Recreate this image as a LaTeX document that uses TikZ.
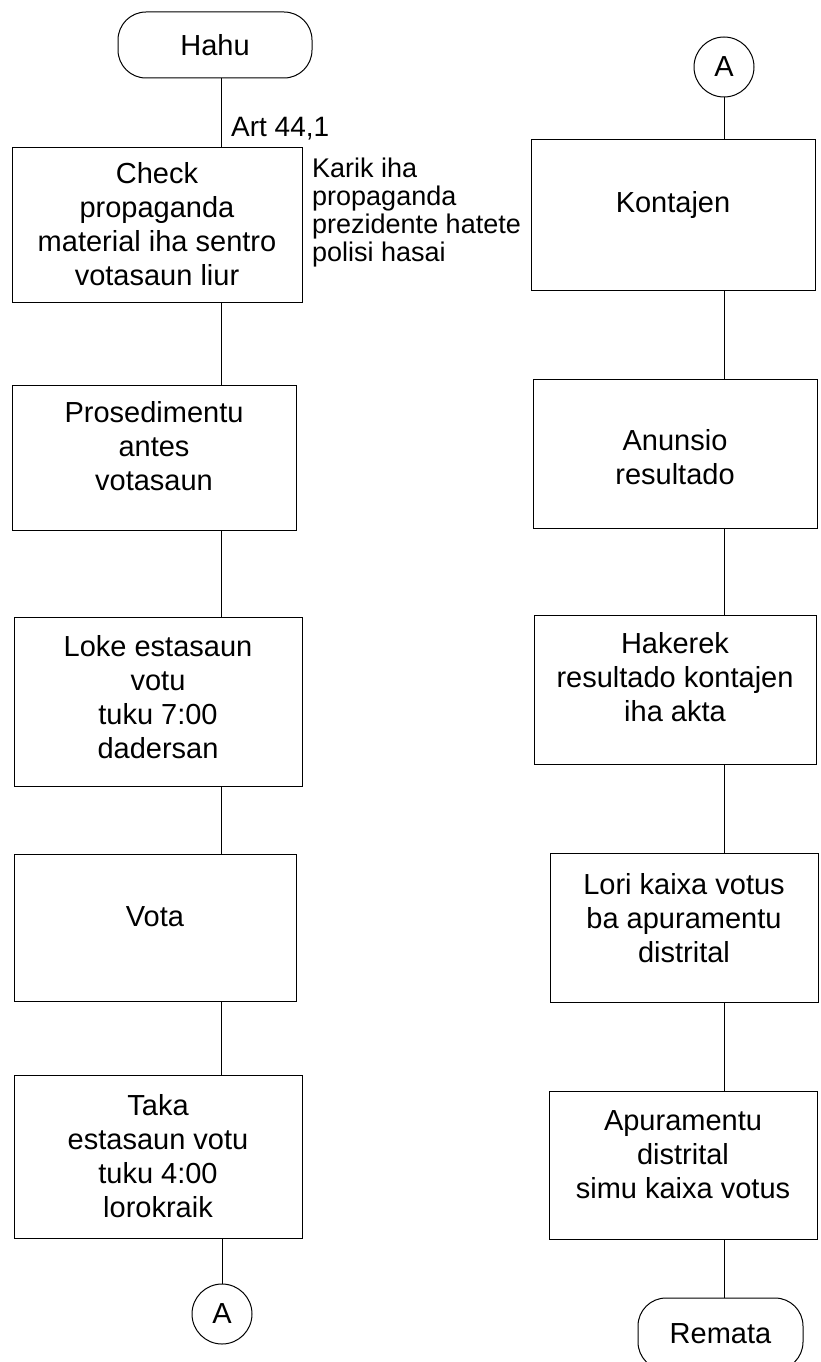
\documentclass[tikz,border=0pt]{standalone}
\usepackage{fontspec}
\setmainfont{Liberation Sans}
\begin{document}
\begin{tikzpicture}[x=1pt,y=-1pt,
  box/.style={draw, line width=1pt, rectangle, inner sep=0pt},
  txt/.style={inner sep=0pt, align=center, font=\fontsize{29}{34}\selectfont},
  term/.style={draw, line width=1pt, rectangle, rounded corners=28pt, inner sep=0pt, font=\fontsize{29}{34}\selectfont},
  conn/.style={draw, circle, line width=1pt, minimum size=60pt, inner sep=0pt, font=\fontsize{29}{34}\selectfont},
  flow/.style={line width=1pt},
  note/.style={inner sep=0pt, align=left, font=\fontsize{27}{28}\selectfont}]
\useasboundingbox[fill=white] (0,0) rectangle (820,1362);
% left column
\node[term, minimum width=194pt, minimum height=66pt] (hahu) at (215,45) {Hahu};
\node[box, minimum width=290pt, minimum height=155pt, label={[txt]center:{Check\\propaganda\\material iha sentro\\votasaun liur}}] (b1) at (157,224.5) {};
\node[box, minimum width=284pt, minimum height=145pt, label={[txt,yshift=11pt]center:{Prosedimentu\\antes\\votasaun}}] (b2) at (154,457.5) {};
\node[box, minimum width=288pt, minimum height=169pt, label={[txt,yshift=4pt]center:{Loke estasaun\\votu\\tuku 7:00\\dadersan}}] (b3) at (158,701.5) {};
\node[box, minimum width=282pt, minimum height=147pt, label={[txt,yshift=11pt]center:{Vota}}] (b4) at (155,927.5) {};
\node[box, minimum width=288pt, minimum height=163pt, label={[txt]center:{Taka\\estasaun votu\\tuku 4:00\\lorokraik}}] (b5) at (158,1156.5) {};
\node[conn] (al) at (222,1314) {A};
\coordinate (cl) at (221,0);
\node[note, anchor=west, font=\fontsize{28}{30}\selectfont] (art) at (231,129) {Art 44,1};
\node[note, anchor=north west] (karik) at (312,158) {Karik iha\\propaganda\\prezidente hatete\\polisi hasai};
% right column
\node[conn] (ar) at (724,67) {A};
\node[box, minimum width=284pt, minimum height=150pt, label={[txt,yshift=10pt]center:{Kontajen}}] (k1) at (673,215) {};
\node[box, minimum width=284pt, minimum height=149pt, label={[txt,yshift=-4pt]center:{Anunsio\\resultado}}] (k2) at (675,453.5) {};
\node[box, minimum width=282pt, minimum height=149pt, label={[txt,yshift=12pt]center:{Hakerek\\resultado kontajen\\iha akta}}] (k3) at (675,689.5) {};
\node[box, minimum width=268pt, minimum height=149pt, label={[txt,yshift=9pt]center:{Lori kaixa votus\\ba apuramentu\\distrital}}] (k4) at (684,927.5) {};
\node[box, minimum width=268pt, minimum height=148pt, label={[txt,yshift=10pt]center:{Apuramentu\\distrital\\simu kaixa votus}}] (k5) at (683,1165) {};
\node[term, minimum width=165pt, minimum height=72pt] (remata) at (720.5,1334) {Remata};
% connectors
\draw[flow] (hahu.south -| cl) -- (b1.north -| cl);
\draw[flow] (b1.south -| cl) -- (b2.north -| cl);
\draw[flow] (b2.south -| cl) -- (b3.north -| cl);
\draw[flow] (b3.south -| cl) -- (b4.north -| cl);
\draw[flow] (b4.south -| cl) -- (b5.north -| cl);
\draw[flow] (b5.south -| al) -- (al.north);
\draw[flow] (ar.south) -- (k1.north -| ar);
\draw[flow] (k1.south -| ar) -- (k2.north -| ar);
\draw[flow] (k2.south -| ar) -- (k3.north -| ar);
\draw[flow] (k3.south -| ar) -- (k4.north -| ar);
\draw[flow] (k4.south -| ar) -- (k5.north -| ar);
\draw[flow] (k5.south -| ar) -- (remata.north -| ar);
\end{tikzpicture}
\end{document}
